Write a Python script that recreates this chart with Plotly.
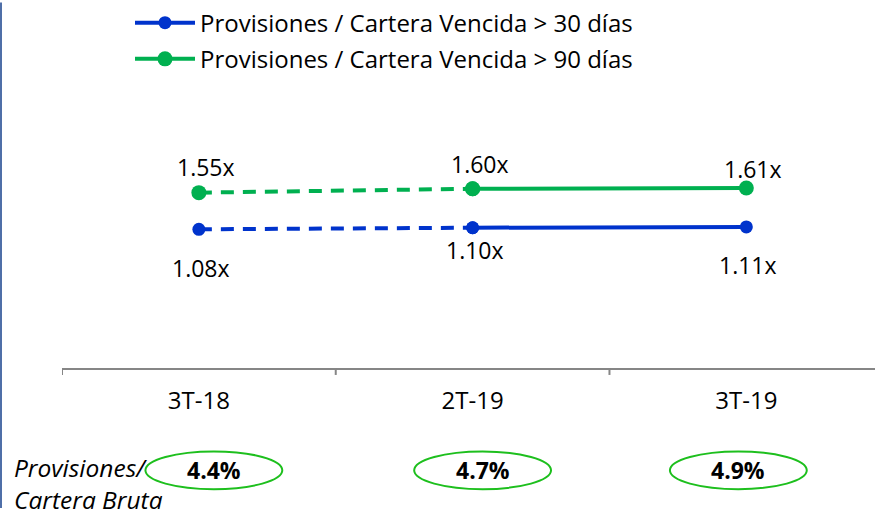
import plotly.graph_objects as go

# ---- data ----
categories = ["3T-18", "2T-19", "3T-19"]
series_30 = [1.08, 1.10, 1.11]
series_90 = [1.55, 1.60, 1.61]
name_30 = "Provisiones / Cartera Vencida > 30 días"
name_90 = "Provisiones / Cartera Vencida > 90 días"
ratio_cartera_bruta = [4.4, 4.7, 4.9]
side_label = ["Provisiones/", "Cartera Bruta"]

# ---- styles / layout ----
W, H = 875, 509
ML, MR, MT, MB = 62, 0, 80, 141
PW, PH = W - ML - MR, H - MT - MB
BLUE = "#0033CC"
GREEN = "#00B050"
FONT = "Open Sans"
X_RANGE = [-0.5, 2.47]
UNIT_PX = PW / (X_RANGE[1] - X_RANGE[0])
BADGE_DX = [15, 10, -8]     # pixel nudges of the ratio badges
DY_90 = [26, 25, 19]        # label nudges (px)
DY_30 = [-39, -22, -38]

def px_x(px):
    return (px - ML) / PW

def px_y(py):
    return (H - MB - py) / PH

xi = list(range(len(categories)))

fig = go.Figure()

def add_series(vals, color, name, msize):
    # dashed first segment
    fig.add_trace(go.Scatter(
        x=xi[:2], y=vals[:2], mode="lines+markers",
        line=dict(color=color, width=4, dash="13px,9px"),
        marker=dict(color=color, size=msize),
        showlegend=False, hoverinfo="skip"))
    # solid remaining segment
    fig.add_trace(go.Scatter(
        x=xi[1:], y=vals[1:], mode="lines+markers",
        line=dict(color=color, width=4),
        marker=dict(color=color, size=msize),
        name=name, showlegend=True, legendgroup=name))

add_series(series_30, BLUE, name_30, 13)
add_series(series_90, GREEN, name_90, 15)

annotations = []
for i, v in enumerate(series_90):
    annotations.append(dict(x=xi[i], y=v, xref="x", yref="y", text=f"{v:.2f}x",
                            showarrow=False, xshift=7, yshift=DY_90[i],
                            font=dict(family=FONT, size=23, color="black")))
for i, v in enumerate(series_30):
    annotations.append(dict(x=xi[i], y=v, xref="x", yref="y", text=f"{v:.2f}x",
                            showarrow=False, xshift=2, yshift=DY_30[i],
                            font=dict(family=FONT, size=23, color="black")))

shapes = []
for i, v in enumerate(ratio_cartera_bruta):
    c = xi[i] + BADGE_DX[i] / UNIT_PX
    shapes.append(dict(type="circle", xref="x", yref="paper",
                       x0=c - 0.25, x1=c + 0.25,
                       y0=px_y(490), y1=px_y(452),
                       line=dict(color="#1DBF1D", width=2)))
    annotations.append(dict(x=xi[i], y=px_y(471), xref="x", yref="paper",
                            text=f"<b>{v:.1f}%</b>", showarrow=False,
                            xanchor="center", yanchor="middle", xshift=BADGE_DX[i],
                            font=dict(family=FONT, size=23, color="black")))

for j, (t, py) in enumerate(zip(side_label, [468, 500])):
    annotations.append(dict(x=px_x(12), y=px_y(py), xref="paper", yref="paper",
                            text=f"<i>{t}</i>", showarrow=False,
                            xanchor="left", yanchor="middle",
                            font=dict(family=FONT, size=24.5, color="black")))

# left border line
shapes.append(dict(type="line", xref="paper", yref="paper",
                   x0=px_x(1), x1=px_x(1), y0=px_y(H), y1=px_y(0),
                   line=dict(color="#4F6FA8", width=2)))

fig.update_layout(
    width=W, height=H,
    margin=dict(l=ML, r=MR, t=MT, b=MB),
    paper_bgcolor="white", plot_bgcolor="white",
    font=dict(family=FONT, size=24, color="black"),
    showlegend=True,
    legend=dict(x=px_x(130), y=px_y(-2), xanchor="left", yanchor="top",
                xref="paper", yref="paper",
                traceorder="grouped", tracegroupgap=2, itemwidth=60,
                font=dict(family=FONT, size=24, color="black"),
                bgcolor="rgba(0,0,0,0)"),
    xaxis=dict(type="linear", range=X_RANGE, tickvals=xi, ticktext=categories,
               showline=True, linecolor="#868686", linewidth=2,
               ticks="", showgrid=False, zeroline=False,
               tickfont=dict(family=FONT, size=24, color="black"),
               ticklabelstandoff=10),
    yaxis=dict(range=[-0.70, 2.97], visible=False, showgrid=False, zeroline=False),
    annotations=annotations,
    shapes=shapes,
)

# boundary ticks between categories
for b in [-0.5, 0.5, 1.5]:
    fig.add_shape(type="line", xref="x", yref="paper", x0=b, x1=b,
                  y0=px_y(375), y1=0, line=dict(color="#868686", width=2))

fig.write_html("out.html", config={"displayModeBar": False},
               post_script="document.body.style.margin='0px';document.body.style.overflow='hidden';")
